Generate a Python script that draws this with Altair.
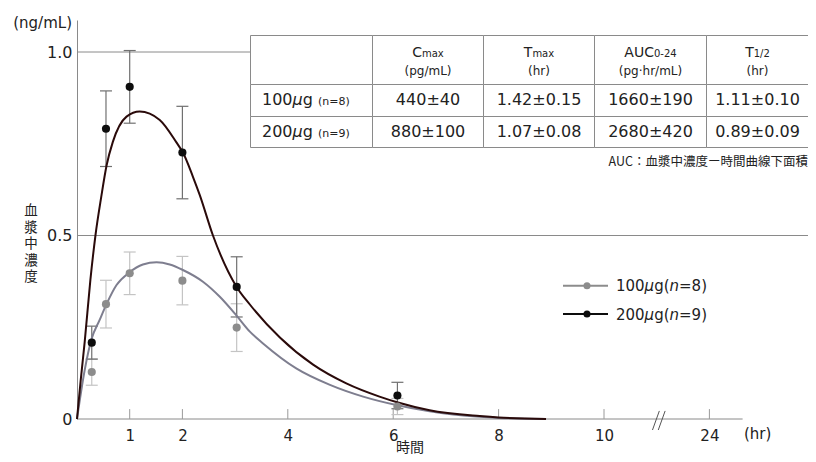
import altair as alt
import pandas as pd

# ---------------- data ----------------
obs_time = [0.28, 0.55, 1.0, 2.0, 3.03, 6.08]
mean_100 = [0.128, 0.313, 0.397, 0.377, 0.249, 0.034]
sd_100 = [0.036, 0.065, 0.058, 0.066, 0.065, 0.022]
mean_200 = [0.208, 0.791, 0.905, 0.726, 0.360, 0.064]
sd_200 = [0.045, 0.103, 0.099, 0.126, 0.082, 0.036]

fit_time_100 = [0, 0.146, 0.27, 0.43, 0.56, 0.75, 0.99, 1.25, 1.51, 1.76, 2.01, 2.39,
                2.71, 3.02, 3.28, 3.53, 4.16, 4.80, 5.43, 6.06, 6.69, 7.64, 8.0, 8.9]
fit_conc_100 = [0, 0.133, 0.215, 0.27, 0.313, 0.365, 0.399, 0.421, 0.427, 0.421, 0.406, 0.374,
                0.333, 0.283, 0.238, 0.206, 0.138, 0.093, 0.061, 0.038, 0.021, 0.006, 0.003, 0.0]
fit_time_200 = [0, 0.07, 0.146, 0.254, 0.35, 0.46, 0.56, 0.68, 0.94, 1.19, 1.57, 1.89, 2.01,
                2.2, 2.33, 2.58, 3.02, 3.28, 3.85, 4.48, 5.11, 5.74, 6.09, 6.69, 7.64, 8.0, 8.9]
fit_conc_200 = [0, 0.105, 0.21, 0.379, 0.5, 0.605, 0.69, 0.755, 0.824, 0.838, 0.815, 0.753, 0.726,
                0.66, 0.61, 0.5, 0.362, 0.312, 0.222, 0.148, 0.097, 0.061, 0.045, 0.024, 0.008,
                0.004, 0.0]

series_dose = ["100", "200"]
series_n = ["8", "9"]

x_ticks = [1, 2, 4, 6, 8, 10, 12]
x_tick_labels = ["1", "2", "4", "6", "8", "10", "24"]
y_ticks = [0, 0.5, 1.0]
y_tick_labels = ["0", "0.5", "1.0"]
y_grid = [0.5, 1.0]
axis_end = 12.63
break_at = 11.05

header_big = ["C", "T", "AUC", "T"]
header_small = ["max", "max", "0-24", "1/2"]
header_unit = ["(pg/mL)", "(hr)", "(pg·hr/mL)", "(hr)"]
row_values_100 = ["440±40", "1.42±0.15", "1660±190", "1.11±0.10"]
row_values_200 = ["880±100", "1.07±0.08", "2680±420", "0.89±0.09"]
footnote = "AUC：血漿中濃度ー時間曲線下面積"
y_title_chars = ["血", "漿", "中", "濃", "度"]
y_unit = "(ng/mL)"
x_unit = "(hr)"
x_title = "時間"

# ---------------- layout constants ----------------
W, H = 731, 399
X_MAX = W / 52.7
Y_MAX = H / 367.0
FONT = "DejaVu Sans"
JFONT = "Noto Sans CJK JP"
TXT = "#222222"
AX = "#8a8a8a"

COL_COLORS = {
    "100": dict(point="#8c8c8c", line="#7e7e8f", err="#c4c4c4"),
    "200": dict(point="#0d0d0d", line="#2a0a0a", err="#707070"),
}

EM = {c: 0.636 for c in "0123456789"}
EM.update({".": 0.318, "±": 0.838, "(": 0.390, ")": 0.390, "=": 0.838, "n": 0.634,
           "g": 0.635, "μ": 0.636, " ": 0.318, "m": 0.974, "a": 0.613, "x": 0.592,
           "A": 0.684, "U": 0.732, "C": 0.698, "T": 0.611, "-": 0.361, "/": 0.337})


def tw(s, size):
    return sum(EM.get(c, 0.6) for c in s) * size


def lay_runs(pieces, x0, y):
    out = []
    x = x0
    for text, size, italic in pieces:
        out.append(dict(text=text, x=x, y=y, size=size, italic=italic))
        x += tw(text, size)
    return out


xscale = alt.Scale(domain=[0, X_MAX], nice=False, zero=False)
yscale = alt.Scale(domain=[0, Y_MAX], nice=False, zero=False)
label_expr_x = " : ".join(
    [f"datum.value == {v} ? '{l}'" for v, l in zip(x_ticks, x_tick_labels)] + ["''"])
label_expr_y = " : ".join(
    [f"datum.value == {v} ? '{l}'" for v, l in zip(y_ticks, y_tick_labels)] + ["''"])
xaxis = alt.Axis(values=x_ticks, labelExpr=label_expr_x, domain=False, ticks=False, grid=False,
                 labelFont=FONT, labelFontSize=15, labelColor=TXT, labelPadding=9, title=None)
yaxis = alt.Axis(values=y_ticks, labelExpr=label_expr_y, domain=True, domainColor=AX,
                 ticks=False, grid=False, labelFont=FONT, labelFontSize=16, labelColor=TXT,
                 labelPadding=5, title=None)


def X(field):
    return alt.X(field, type="quantitative", scale=xscale, axis=xaxis)


def Y(field):
    return alt.Y(field, type="quantitative", scale=yscale, axis=yaxis)


layers = []

# grid lines
layers.append(alt.Chart(pd.DataFrame({"v": y_grid})).mark_rule(color=AX, strokeWidth=1)
              .encode(y=Y("v")))
# x axis line
layers.append(alt.Chart(pd.DataFrame({"a": [0.0], "b": [axis_end], "v": [0.0]}))
              .mark_rule(color=AX, strokeWidth=1).encode(x=X("a"), x2="b", y=Y("v")))
# x ticks (drawn upward)
layers.append(alt.Chart(pd.DataFrame({"t": x_ticks, "v0": 0.0, "v1": 0.027}))
              .mark_rule(color="#9a9a9a", strokeWidth=1).encode(x=X("t"), y=Y("v0"), y2="v1"))
# axis break marks
brk = pd.DataFrame({"a": [break_at - 0.13, break_at - 0.02], "b": [break_at, break_at + 0.11],
                    "v0": [-0.03, -0.03], "v1": [0.022, 0.022]})
layers.append(alt.Chart(brk).mark_rule(color="#555555", strokeWidth=1)
              .encode(x=X("a"), x2="b", y=Y("v0"), y2="v1"))

obs = {"100": (mean_100, sd_100), "200": (mean_200, sd_200)}
fits = {"100": (fit_time_100, fit_conc_100), "200": (fit_time_200, fit_conc_200)}
cap = 6 / 52.7

err_layers, line_layers, pt_layers = [], [], []
for d in series_dose:
    m, s = obs[d]
    df = pd.DataFrame({"t": obs_time, "m": m, "s": s})
    df["lo"] = df["m"] - df["s"]
    df["hi"] = df["m"] + df["s"]
    df["ta"] = df["t"] - cap
    df["tb"] = df["t"] + cap
    c = COL_COLORS[d]
    err_layers.append(alt.Chart(df).mark_rule(color=c["err"], strokeWidth=1.2)
                      .encode(x=X("t"), y=Y("lo"), y2="hi"))
    err_layers.append(alt.Chart(df).mark_rule(color=c["err"], strokeWidth=1.2)
                      .encode(x=X("ta"), x2="tb", y=Y("lo")))
    err_layers.append(alt.Chart(df).mark_rule(color=c["err"], strokeWidth=1.2)
                      .encode(x=X("ta"), x2="tb", y=Y("hi")))
    ft, fc = fits[d]
    line_layers.append(alt.Chart(pd.DataFrame({"t": ft, "c": fc}))
                       .mark_line(color=c["line"], strokeWidth=2, interpolate="monotone")
                       .encode(x=X("t"), y=Y("c")))
    pt_layers.append(alt.Chart(df).mark_circle(color=c["point"], size=66, opacity=1)
                     .encode(x=X("t"), y=Y("m")))
layers += err_layers + line_layers + pt_layers

# ---------------- table ----------------
col_edges = [173.5, 295.5, 406.5, 517.5, 629.5, 731.5]
row_edges = [15.5, 64.5, 96.5, 127.5]
cells = []
for i in range(len(col_edges) - 1):
    for j in range(len(row_edges) - 1):
        cells.append(dict(x1=col_edges[i], x2=col_edges[i + 1], y1=row_edges[j], y2=row_edges[j + 1]))
layers.append(alt.Chart(pd.DataFrame(cells)).mark_rect(fill="white", stroke=AX, strokeWidth=1)
              .encode(x=alt.X("x1:Q", scale=None, axis=None), x2="x2",
                      y=alt.Y("y1:Q", scale=None, axis=None), y2="y2"))

col_centers = [(col_edges[i] + col_edges[i + 1]) / 2 for i in range(1, 5)]
runs = []
for cx, big, small in zip(col_centers, header_big, header_small):
    total = tw(big, 14) + tw(small, 10)
    runs += lay_runs([(big, 14, False), (small, 10, False)], cx - total / 2, 37)
row_base = [84.7, 117]
for d, n, yb in zip(series_dose, series_n, row_base):
    runs += lay_runs([(d, 16, False), ("μ", 16, True), ("g", 16, False), (" ", 16, False),
                      (f"(n={n})", 11, False)], 185, yb)
# legend text
leg_y = [265.7, 294.0]
for d, n, yc in zip(series_dose, series_n, leg_y):
    runs += lay_runs([(d, 15, False), ("μ", 15, True), ("g(", 15, False), ("n", 15, True),
                      (f"={n})", 15, False)], 539, yc + 5.5)
runs_df = pd.DataFrame(runs)
for it in [False, True]:
    layers.append(alt.Chart(runs_df[runs_df["italic"] == it])
                  .mark_text(align="left", baseline="alphabetic", font=FONT, color=TXT,
                             fontStyle="italic" if it else "normal")
                  .encode(x=alt.X("x:Q", scale=None, axis=None),
                          y=alt.Y("y:Q", scale=None, axis=None),
                          size=alt.Size("size:Q", scale=None, legend=None),
                          text="text:N"))

centered = []
for cx, u in zip(col_centers, header_unit):
    centered.append(dict(text=u, x=cx, y=55.4, size=12))
for cx, v in zip(col_centers, row_values_100):
    centered.append(dict(text=v, x=cx, y=row_base[0], size=16))
for cx, v in zip(col_centers, row_values_200):
    centered.append(dict(text=v, x=cx, y=row_base[1], size=16))
layers.append(alt.Chart(pd.DataFrame(centered))
              .mark_text(align="center", baseline="alphabetic", font=FONT, color=TXT)
              .encode(x=alt.X("x:Q", scale=None, axis=None),
                      y=alt.Y("y:Q", scale=None, axis=None),
                      size=alt.Size("size:Q", scale=None, legend=None),
                      text="text:N"))

# footnote
layers.append(alt.Chart(pd.DataFrame({"text": [footnote], "x": [731.0], "y": [145.5]}))
              .mark_text(align="right", baseline="alphabetic", font=JFONT, fontSize=12.5, color=TXT)
              .encode(x=alt.X("x:Q", scale=None, axis=None), y=alt.Y("y:Q", scale=None, axis=None),
                      text="text:N"))

# legend symbols
leg_rows = pd.DataFrame({"dose": series_dose, "y": leg_y, "xa": 486.0, "xb": 531.0, "xm": 510.0})
for d, yc in zip(series_dose, leg_y):
    c = COL_COLORS[d]
    sub = leg_rows[leg_rows["dose"] == d]
    layers.append(alt.Chart(sub).mark_rule(color=c["point"], strokeWidth=2)
                  .encode(x=alt.X("xa:Q", scale=None, axis=None), x2="xb",
                          y=alt.Y("y:Q", scale=None, axis=None)))
    layers.append(alt.Chart(sub).mark_circle(color=c["point"], size=50, opacity=1)
                  .encode(x=alt.X("xm:Q", scale=None, axis=None),
                          y=alt.Y("y:Q", scale=None, axis=None)))

# axis titles / units (vertical title as one stacked multi-line text)
ytitle = pd.DataFrame({"text": ["\n".join(y_title_chars)], "x": [-46.0], "y": [191.0]})
layers.append(alt.Chart(ytitle).mark_text(align="center", baseline="middle", font=JFONT,
                                           fontSize=13.5, color=TXT, lineBreak="\n",
                                           lineHeight=16.6)
              .encode(x=alt.X("x:Q", scale=None, axis=None), y=alt.Y("y:Q", scale=None, axis=None),
                      text="text:N"))
layers.append(alt.Chart(pd.DataFrame({"text": [y_unit], "x": [-5.0], "y": [8.4]}))
              .mark_text(align="right", baseline="alphabetic", font=FONT, fontSize=15, color=TXT)
              .encode(x=alt.X("x:Q", scale=None, axis=None), y=alt.Y("y:Q", scale=None, axis=None),
                      text="text:N"))
layers.append(alt.Chart(pd.DataFrame({"text": [x_unit], "x": [667.0], "y": [419.4]}))
              .mark_text(align="left", baseline="alphabetic", font=FONT, fontSize=15, color=TXT)
              .encode(x=alt.X("x:Q", scale=None, axis=None), y=alt.Y("y:Q", scale=None, axis=None),
                      text="text:N"))
layers.append(alt.Chart(pd.DataFrame({"text": [x_title], "x": [333.0], "y": [427.5]}))
              .mark_text(align="center", baseline="middle", font=JFONT, fontSize=14, color=TXT)
              .encode(x=alt.X("x:Q", scale=None, axis=None), y=alt.Y("y:Q", scale=None, axis=None),
                      text="text:N"))

chart = (alt.layer(*layers)
         .properties(width=W, height=H, autosize=alt.AutoSizeParams(type="none"),
                     padding={"left": 69, "top": 12, "right": 0, "bottom": 35},
                     background="white")
         .configure_view(stroke=None))

chart.save("out.html", embed_options={"renderer": "svg", "actions": False})
